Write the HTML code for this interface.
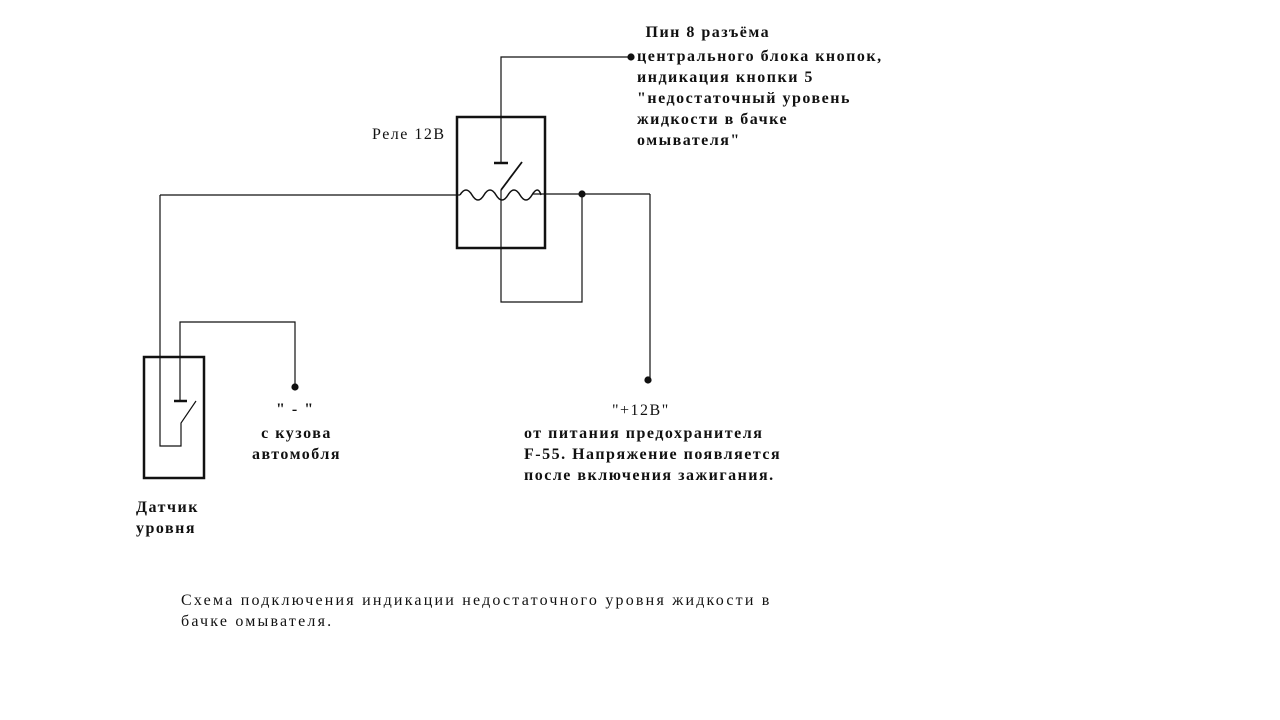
<!DOCTYPE html>
<html><head><meta charset="utf-8"><style>
body{margin:0;width:1280px;height:720px;background:#fff;position:relative;overflow:hidden;font-family:"Liberation Serif","DejaVu Serif",serif;color:#111}
.t{position:absolute;font-size:16px;line-height:21px;white-space:nowrap;letter-spacing:1.5px}
svg{position:absolute;left:0;top:0}
</style></head><body>
<svg width="1280" height="720" stroke="#111" fill="none" stroke-width="1.2">
<rect x="457" y="117" width="88" height="131" stroke-width="2.5"/>
<polyline points="630,57 501,57 501,163"/>
<line x1="494" y1="163" x2="508" y2="163" stroke-width="2.5"/>
<line x1="501" y1="190" x2="522" y2="162" stroke-width="1.8"/>
<line x1="160" y1="195" x2="460" y2="195"/>
<path d="M460,195 q6,-10 12,0 q6,10 12,0 q6,-10 12,0 q6,10 12,0 q6,-10 12,0 q6,10 12,0 q6,-10 9,0" stroke-width="1.5"/>
<line x1="533" y1="194" x2="650" y2="194"/>
<line x1="650" y1="194" x2="650" y2="380"/>
<polyline points="501,190 501,302 582,302 582,194"/>
<circle cx="582" cy="194" r="3" fill="#111"/>
<circle cx="631" cy="57" r="3" fill="#111"/>
<circle cx="648" cy="380" r="3" fill="#111"/>
<rect x="144" y="357" width="60" height="121" stroke-width="2.5"/>
<polyline points="160,195 160,446 181,446 181,423 196,401"/>
<polyline points="180,401 180,322 295,322 295,387"/>
<line x1="174" y1="401" x2="187" y2="401" stroke-width="2.5"/>
<circle cx="295" cy="387" r="3" fill="#111"/>
</svg>
<div class="t" style="left:640px;top:22px;font-weight:bold">&nbsp;Пин 8 разъёма</div>
<div class="t" style="left:637px;top:46px;font-weight:bold">центрального блока кнопок,<br>индикация кнопки 5<br>"недостаточный уровень<br>жидкости в бачке<br>омывателя"</div>
<div class="t" style="left:372px;top:124px">Реле 12В</div>
<div class="t" style="left:276px;top:399px;font-weight:bold">" - "</div>
<div class="t" style="left:252px;top:423px;text-align:center;font-weight:bold">с кузова<br>автомобля</div>
<div class="t" style="left:136px;top:497px;font-weight:bold">Датчик<br>уровня</div>
<div class="t" style="left:612px;top:400px">"+12В"</div>
<div class="t" style="left:524px;top:423px;font-weight:bold">от питания предохранителя<br>F-55. Напряжение появляется<br>после включения зажигания.</div>
<div class="t" style="left:181px;top:590px;letter-spacing:2.2px">Схема подключения индикации недостаточного уровня жидкости в<br>бачке омывателя.</div>
</body></html>
